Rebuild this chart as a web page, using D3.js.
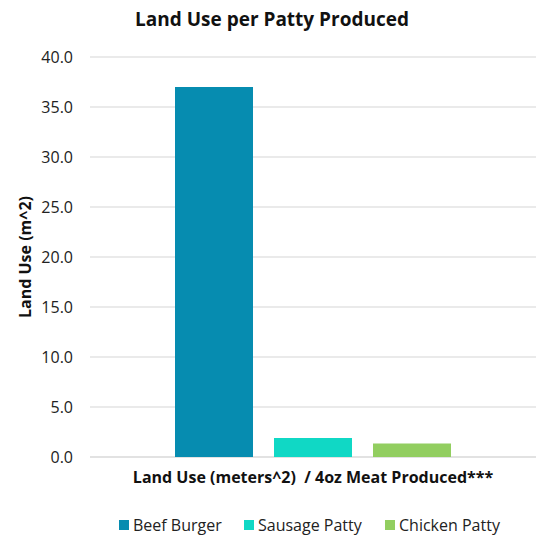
<!DOCTYPE html>
<html><head><meta charset="utf-8">
<script src="https://cdn.jsdelivr.net/npm/d3@7"></script>
<style>body{margin:0;background:#fff}svg{font-family:"Open Sans",sans-serif}text{white-space:pre}</style>
</head><body><svg id="c" width="543" height="535"></svg>
<script>
const categories = ["Land Use (meters^2)  / 4oz Meat Produced***"];
const seriesNames = ["Beef Burger", "Sausage Patty", "Chicken Patty"];
const beefBurger = [37.0];
const sausagePatty = [1.9];
const chickenPatty = [1.35];
const seriesValues = [beefBurger, sausagePatty, chickenPatty];
const colors = ["#068CB0", "#10D8C5", "#92CE60"];
const yTicks = [0, 5, 10, 15, 20, 25, 30, 35, 40];

const svg = d3.select("#c");
const m = {l: 90, r: 7, t: 57, b: 78};
const W = 543, H = 535;
const x0 = d3.scaleBand().domain(categories).range([m.l, W - m.r]).paddingInner(0).paddingOuter(0.308);
const x1 = d3.scaleBand().domain(seriesNames).range([0, x0.bandwidth()]).paddingInner(21/99).paddingOuter(0);
const y = d3.scaleLinear().domain([0, 40]).range([H - m.b, m.t]);

// gridlines
svg.append("g").selectAll("line").data(yTicks).join("line")
  .attr("x1", m.l).attr("x2", W - m.r)
  .attr("y1", d => y(d)).attr("y2", d => y(d))
  .attr("stroke", d => d === 0 ? "#d9d9d9" : "#e3e3e3").attr("stroke-width", 1.3);

// y axis labels
const ya = svg.append("g").attr("transform", `translate(${m.l - 17},0)`)
  .call(d3.axisLeft(y).tickValues(yTicks).tickFormat(d3.format(".1f")).tickSize(0).tickPadding(0));
ya.select(".domain").remove();
ya.selectAll("text").attr("font-size", 16).attr("fill", "#222").attr("font-family", "Open Sans");

// bars
const g = svg.append("g");
categories.forEach((c, ci) => {
  seriesNames.forEach((s, si) => {
    const v = seriesValues[si][ci];
    g.append("rect")
      .attr("x", x0(c) + x1(s)).attr("width", x1.bandwidth())
      .attr("y", y(v)).attr("height", y(0) - y(v))
      .attr("fill", colors[si]);
  });
});

// x axis category label
const xa = svg.append("g").attr("transform", `translate(0,${y(0)})`)
  .call(d3.axisBottom(x0).tickSize(0).tickPadding(15));
xa.select(".domain").remove();
xa.selectAll("text").attr("font-size", 16).attr("font-weight", "bold").attr("fill", "#111").attr("font-family", "Open Sans");

// title
svg.append("text").attr("x", 272).attr("y", 26).attr("text-anchor", "middle")
  .attr("font-size", 19).attr("font-weight", "bold").attr("fill", "#111").text("Land Use per Patty Produced");

// y axis title
svg.append("text").attr("transform", `translate(31,${(y(0)+y(40))/2}) rotate(-90)`)
  .attr("text-anchor", "middle").attr("font-size", 16).attr("font-weight", "bold").attr("fill", "#111")
  .text("Land Use (m^2)");

// legend
const legX = [119, 244, 385];
const leg = svg.append("g");
seriesNames.forEach((s, i) => {
  leg.append("rect").attr("x", legX[i]).attr("y", 520).attr("width", 10).attr("height", 10).attr("fill", colors[i]);
  leg.append("text").attr("x", legX[i] + 14).attr("y", 531).attr("font-size", 16).attr("fill", "#222").text(s);
});
</script></body></html>
